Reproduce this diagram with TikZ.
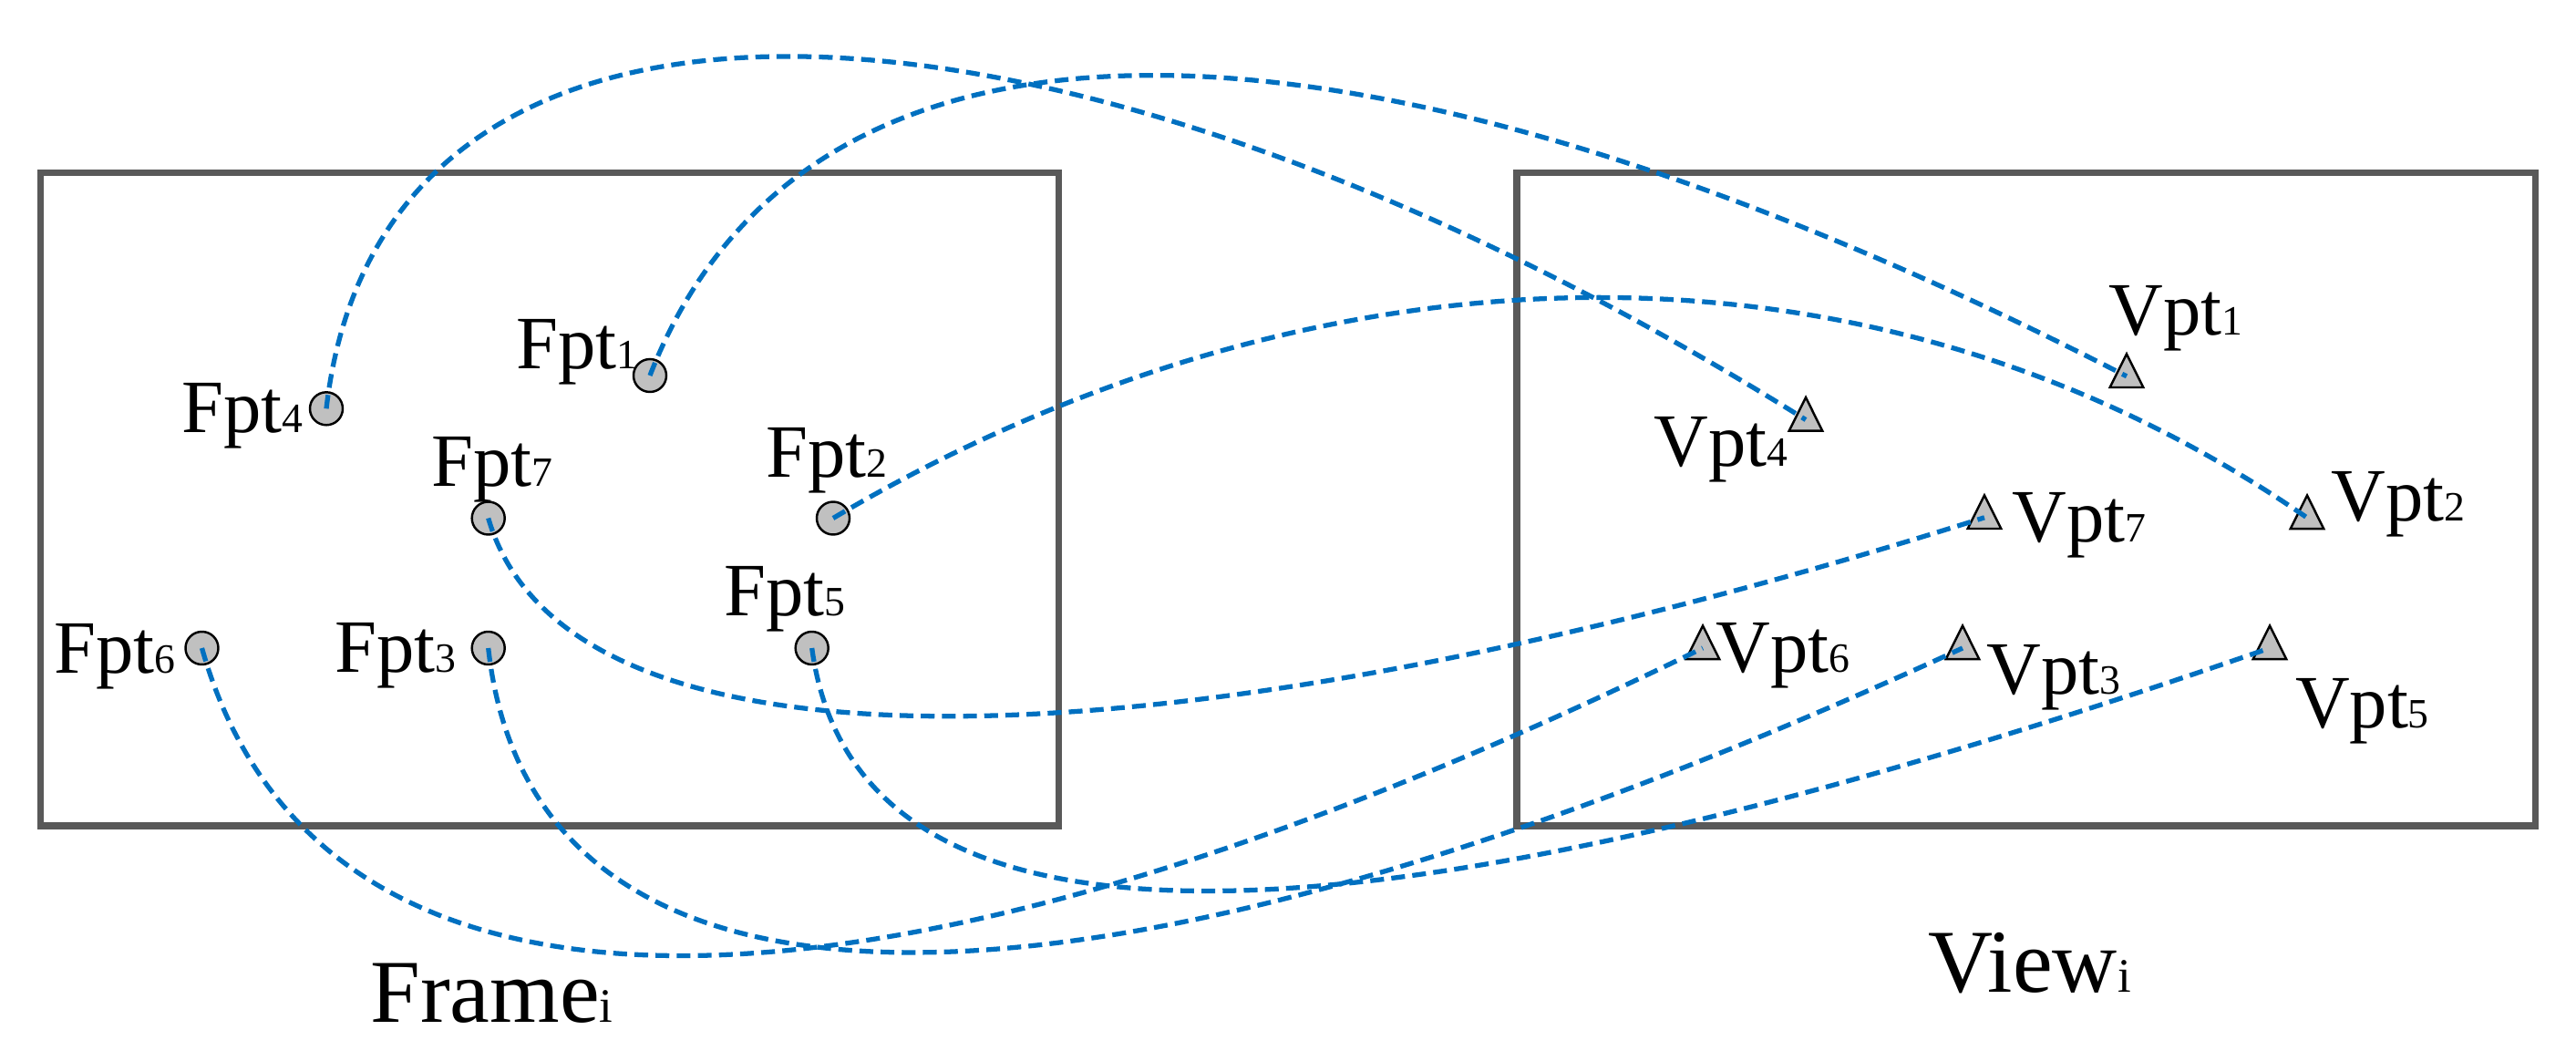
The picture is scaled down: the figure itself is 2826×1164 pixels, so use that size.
\documentclass[tikz,border=0pt]{standalone}
\usepackage{fontspec}
\setmainfont{Liberation Serif}
\definecolor{framegray}{HTML}{595959}
\definecolor{linkblue}{HTML}{0070C0}
\definecolor{ptfill}{HTML}{C0C0C0}
\newcommand{\smidx}[1]{{\fontsize{13pt}{13pt}\selectfont #1}}
\newcommand{\bigidx}[1]{{\fontsize{15pt}{15pt}\selectfont #1}}
\tikzset{
  panel/.style={draw=framegray, line width=2pt},
  fptnode/.style={circle, draw=black, fill=ptfill, line width=0.7pt, minimum size=0.36cm, inner sep=0pt},
  vtri/.pic={\draw[fill=ptfill, line width=0.7pt, line join=miter] (0,-24.5) -- (18.3,12.2) -- (-18.3,12.2) -- cycle;},
  lbl/.style={anchor=base west, inner sep=0pt, font=\fontsize{23.5pt}{28pt}\selectfont},
  title/.style={anchor=base west, inner sep=0pt, font=\fontsize{28pt}{32pt}\selectfont},
  link/.style={draw=linkblue, line width=1.5pt, dash pattern=on 4.3pt off 2.3pt}
}
\begin{document}
\begin{tikzpicture}[x=0.01cm, y=-0.01cm]
\useasboundingbox (0,0) rectangle (2826,1164);
% panels
\draw[panel] (44.5,189.5) rectangle (1161.5,906);
\draw[panel] (1664,189.5) rectangle (2781,906);
% frame points
\node[fptnode] (f1) at (713,412) {};
\node[fptnode] (f2) at (914,568.5) {};
\node[fptnode] (f3) at (535.7,711) {};
\node[fptnode] (f4) at (358,448.3) {};
\node[fptnode] (f5) at (890.7,711) {};
\node[fptnode] (f6) at (221.5,711) {};
\node[fptnode] (f7) at (535.7,568.5) {};
% view points
\coordinate (v1) at (2333,412.8);
\coordinate (v2) at (2531,568);
\coordinate (v3) at (2153,711);
\coordinate (v4) at (1981,460.5);
\coordinate (v5) at (2490,711);
\coordinate (v6) at (1868,711);
\coordinate (v7) at (2177,567.8);
\foreach \v in {v1,v2,v3,v4,v5,v6,v7} {\pic at (\v) {vtri};}
% labels
\node[lbl] (lf1) at (566,404.6) {Fpt\smidx{1}};
\node[lbl] (lf2) at (839.5,523.8) {Fpt\smidx{2}};
\node[lbl] (lf3) at (367,738) {Fpt\smidx{3}};
\node[lbl] (lf4) at (199,475) {Fpt\smidx{4}};
\node[lbl] (lf5) at (793.5,675.3) {Fpt\smidx{5}};
\node[lbl] (lf6) at (59,738.5) {Fpt\smidx{6}};
\node[lbl] (lf7) at (473,533.2) {Fpt\smidx{7}};
\node[lbl] (lv1) at (2313,368) {Vpt\smidx{1}};
\node[lbl] (lv2) at (2557,571.6) {Vpt\smidx{2}};
\node[lbl] (lv3) at (2179,761.5) {Vpt\smidx{3}};
\node[lbl] (lv4) at (1814,512) {Vpt\smidx{4}};
\node[lbl] (lv5) at (2517.3,798) {Vpt\smidx{5}};
\node[lbl] (lv6) at (1882,737.7) {Vpt\smidx{6}};
\node[lbl] (lv7) at (2207,595) {Vpt\smidx{7}};
\node[title] (tf) at (405.6,1121) {Frame\bigidx{i}};
\node[title] (tv) at (2115,1088) {View\bigidx{i}};
% connectors
\draw[link] (f4.center) .. controls (420,-92) and (1172,-45) .. (v4);
\draw[link] (f1.center) .. controls (886,-33) and (1488,-21.5) .. (v1);
\draw[link] (f2.center) .. controls (1430.5,263) and (2039.7,229) .. (v2);
\draw[link] (f7.center) .. controls (625.3,876) and (1317,840) .. (v7);
\draw[link] (f6.center) .. controls (349,1162) and (950,1160) .. (v6);
\draw[link] (f3.center) .. controls (585,1156.5) and (1188,1156) .. (v3);
\draw[link] (f5.center) .. controls (940,1075) and (1491.5,1057.5) .. (v5);
\end{tikzpicture}
\end{document}
